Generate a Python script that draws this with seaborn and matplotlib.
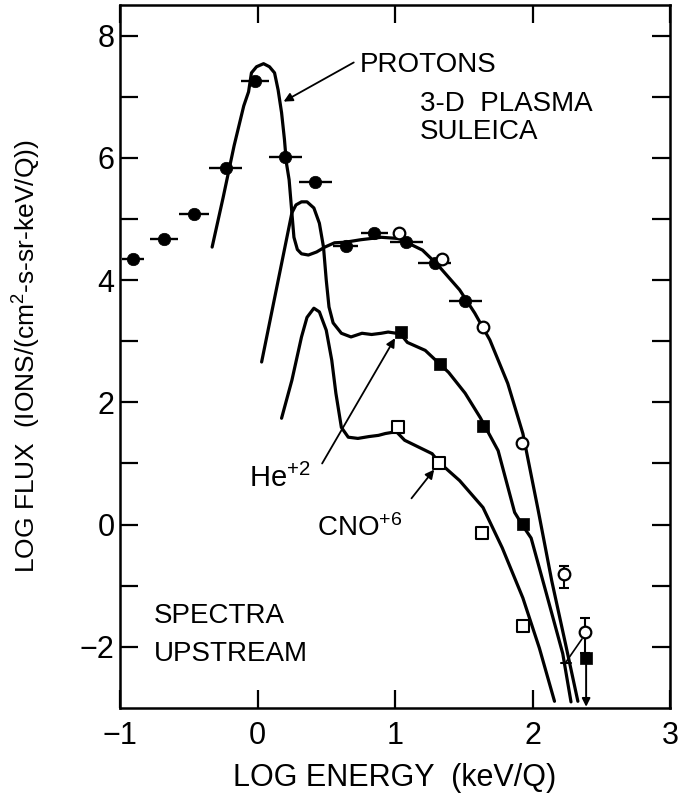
import numpy as np
import pandas as pd
import matplotlib
matplotlib.use("Agg")
import matplotlib.pyplot as plt
import seaborn as sns

# ---------------- data ----------------
# filled circles: protons, 3-D plasma (with horizontal energy bins)
p_x = [-0.905, -0.68, -0.46, -0.23, -0.02, 0.20, 0.42, 0.64, 0.85, 1.08, 1.29, 1.51]
p_y = [4.34, 4.67, 5.08, 5.83, 7.25, 6.02, 5.60, 4.56, 4.77, 4.62, 4.28, 3.66]
p_xerr = [0.08, 0.10, 0.11, 0.12, 0.10, 0.12, 0.12, 0.09, 0.10, 0.12, 0.12, 0.12]

# open circles: protons, SULEICA
s_x = [1.03, 1.34, 1.64, 1.92, 2.23, 2.38]
s_y = [4.77, 4.34, 3.23, 1.33, -0.81, -1.75]
# vertical error bars on the two highest-energy open circles
s_eb_x = [2.23, 2.38]
s_eb_y = [-0.81, -1.75]
s_eb_lo = [0.23, 0.35]
s_eb_hi = [0.14, 0.23]

# filled squares: He+2
he_x = [1.04, 1.33, 1.64, 1.93, 2.39]
he_y = [3.15, 2.62, 1.62, 0.01, -2.18]
# upper-limit arrow on last He point
he_lim_x = [2.39, 2.39]
he_lim_y = [-2.18, -2.98]

# open squares: CNO+6
cno_x = [1.02, 1.32, 1.63, 1.93]
cno_y = [1.59, 1.00, -0.13, -1.66]

# small limit marker (dash + tie line) near the last points
lim_dash_x = [2.21, 2.28]
lim_dash_y = [-2.26, -2.26]
lim_tie_x = [2.24, 2.36]
lim_tie_y = [-2.26, -1.87]

# fitted (hand-drawn) spectra
prot_cx = [-0.33, -0.25, -0.17, -0.10, -0.065, -0.044, -0.007, 0.044, 0.087, 0.124,
           0.15, 0.175, 0.196, 0.21, 0.23, 0.25, 0.265, 0.29, 0.32, 0.37, 0.43, 0.49,
           0.56, 0.64, 0.75, 0.90, 1.03, 1.10, 1.20, 1.31, 1.47, 1.58, 1.69, 1.82,
           1.93, 2.04, 2.14, 2.24, 2.33]
prot_cy = [4.54, 5.35, 6.20, 6.85, 7.08, 7.39, 7.49, 7.54, 7.49, 7.39,
           7.11, 6.74, 6.30, 5.92, 5.64, 5.10, 4.70, 4.50, 4.43, 4.41, 4.46, 4.54,
           4.61, 4.62, 4.66, 4.70, 4.68, 4.60, 4.49, 4.25, 3.84, 3.46, 3.02, 2.31,
           1.49, 0.25, -0.92, -1.95, -2.89]

he_cx = [0.03, 0.14, 0.25, 0.28, 0.32, 0.36, 0.41, 0.45, 0.48, 0.50, 0.52, 0.55,
         0.61, 0.68, 0.76, 0.83, 0.90, 0.95, 1.04, 1.09, 1.22, 1.39, 1.51, 1.62,
         1.75, 1.87, 1.93, 1.99, 2.10, 2.22, 2.28]
he_cy = [2.66, 3.88, 5.10, 5.23, 5.28, 5.28, 5.18, 4.93, 4.54, 4.00, 3.56, 3.30,
         3.13, 3.07, 3.13, 3.11, 3.13, 3.15, 3.12, 2.98, 2.85, 2.49, 2.15, 1.75,
         1.21, 0.20, -0.02, -0.22, -1.12, -2.11, -2.90]

cno_cx = [0.175, 0.25, 0.32, 0.36, 0.41, 0.45, 0.50, 0.54, 0.57, 0.61, 0.66,
          0.73, 0.81, 0.88, 0.93, 1.01, 1.07, 1.17, 1.27, 1.32, 1.47, 1.64, 1.78,
          1.93, 2.05, 2.16]
cno_cy = [1.74, 2.36, 3.07, 3.39, 3.54, 3.48, 3.18, 2.69, 2.15, 1.59, 1.43,
          1.41, 1.44, 1.46, 1.49, 1.52, 1.38, 1.27, 1.16, 1.02, 0.72, 0.28, -0.38,
          -1.20, -2.02, -2.89]

x_ticks = [-1, 0, 1, 2, 3]
x_ticklabels = ["\u22121", "0", "1", "2", "3"]
y_ticks = [-2, 0, 2, 4, 6, 8]
y_ticklabels = ["\u22122", "0", "2", "4", "6", "8"]
y_minor = [-1, 1, 3, 5, 7]

# ---------------- styling ----------------
sns.set_theme(style="ticks")
plt.rcParams["font.family"] = ["Liberation Sans", "DejaVu Sans"]
plt.rcParams["mathtext.fontset"] = "custom"
plt.rcParams["mathtext.rm"] = "Liberation Sans"
plt.rcParams["mathtext.it"] = "Liberation Sans"
plt.rcParams["mathtext.default"] = "regular"
for key in ["text.color", "axes.labelcolor", "xtick.color", "ytick.color",
            "xtick.labelcolor", "ytick.labelcolor", "axes.edgecolor"]:
    plt.rcParams[key] = "black"

fig = plt.figure(figsize=(6.78, 7.99), dpi=100)
fig.patch.set_facecolor("white")
ax = fig.add_axes([120 / 678, 91 / 799, 550 / 678, 703 / 799])
ax.set_facecolor("white")

LW = 2.3
curves = [(prot_cx, prot_cy), (he_cx, he_cy), (cno_cx, cno_cy)]
for cx, cy in curves:
    sns.lineplot(x=cx, y=cy, sort=False, estimator=None, color="black",
                 linewidth=LW, ax=ax, zorder=2)

# horizontal energy-bin bars on filled circles
ax.errorbar(p_x, p_y, xerr=p_xerr, fmt="none", ecolor="black",
            elinewidth=1.7, capsize=0, zorder=3)
# vertical error bars on open circles
ax.errorbar(s_eb_x, s_eb_y, yerr=[s_eb_lo, s_eb_hi], fmt="none", ecolor="black",
            elinewidth=1.5, capsize=3.5, capthick=1.5, zorder=3)

sns.scatterplot(x=p_x, y=p_y, marker="o", s=80, color="black",
                edgecolor="black", linewidth=0.5, ax=ax, zorder=4)
sns.scatterplot(x=s_x, y=s_y, marker="o", s=70, facecolor="white",
                edgecolor="black", linewidth=1.6, ax=ax, zorder=4)
sns.scatterplot(x=he_x, y=he_y, marker="s", s=75, color="black",
                edgecolor="black", linewidth=0.5, ax=ax, zorder=4)
sns.scatterplot(x=cno_x, y=cno_y, marker="s", s=75, facecolor="white",
                edgecolor="black", linewidth=1.5, ax=ax, zorder=4)

# upper-limit arrow
ax.annotate("", xy=(he_lim_x[1], he_lim_y[1]), xytext=(he_lim_x[0], he_lim_y[0]),
            arrowprops=dict(arrowstyle="-|>", color="black", lw=1.4,
                            mutation_scale=12, shrinkA=0, shrinkB=0), zorder=3)
ax.plot(lim_dash_x, lim_dash_y, color="black", lw=1.5, zorder=3)
ax.plot(lim_tie_x, lim_tie_y, color="black", lw=1.2, zorder=3)

# labels with pointer arrows
arrow_kw = dict(arrowstyle="-|>", color="black", lw=1.3, mutation_scale=13,
                shrinkA=0, shrinkB=0)
ax.annotate("", xy=(0.19, 6.92), xytext=(0.70, 7.56), arrowprops=arrow_kw)
ax.annotate("", xy=(1.00, 3.05), xytext=(0.47, 1.00), arrowprops=arrow_kw)
ax.annotate("", xy=(1.285, 0.90), xytext=(1.12, 0.43), arrowprops=arrow_kw)

ax.text(0.742, 7.41, "PROTONS", fontsize=20, ha="left", va="baseline")
ax.text(1.18, 6.76, "3-D  PLASMA", fontsize=20, ha="left", va="baseline")
ax.text(1.18, 6.30, "SULEICA", fontsize=20, ha="left", va="baseline")
ax.text(-0.756, -1.61, "SPECTRA", fontsize=20, ha="left", va="baseline")
ax.text(-0.756, -2.23, "UPSTREAM", fontsize=20, ha="left", va="baseline")
ax.text(-0.065, 0.61, "He$^{+2}$", fontsize=21, ha="left", va="baseline")
ax.text(0.43, -0.18, "CNO$^{+6}$", fontsize=20, ha="left", va="baseline")

# axes
ax.set_xlim(-1, 3)
ax.set_ylim(-3, 8.5)
ax.set_xticks(x_ticks)
ax.set_xticklabels(x_ticklabels)
ax.set_yticks(y_ticks)
ax.set_yticklabels(y_ticklabels)
ax.set_yticks(y_minor, minor=True)
ax.tick_params(axis="both", which="both", direction="in", length=13, width=1.6,
               top=True, right=True, color="black", labelcolor="black")
ax.tick_params(axis="x", labelsize=22, pad=9)
ax.tick_params(axis="y", labelsize=22, pad=4)
for sp in ax.spines.values():
    sp.set_linewidth(1.8)
    sp.set_color("black")

ax.set_xlabel("LOG ENERGY  (keV/Q)", fontsize=22, color="black")
ax.set_ylabel("LOG FLUX  (IONS/(cm$^2$-s-sr-keV/Q))", fontsize=19, color="black")
ax.xaxis.set_label_coords(0.5, -0.078)
ax.yaxis.set_label_coords(-0.14, 0.5)

fig.savefig("out.png", dpi=100, facecolor="white")
